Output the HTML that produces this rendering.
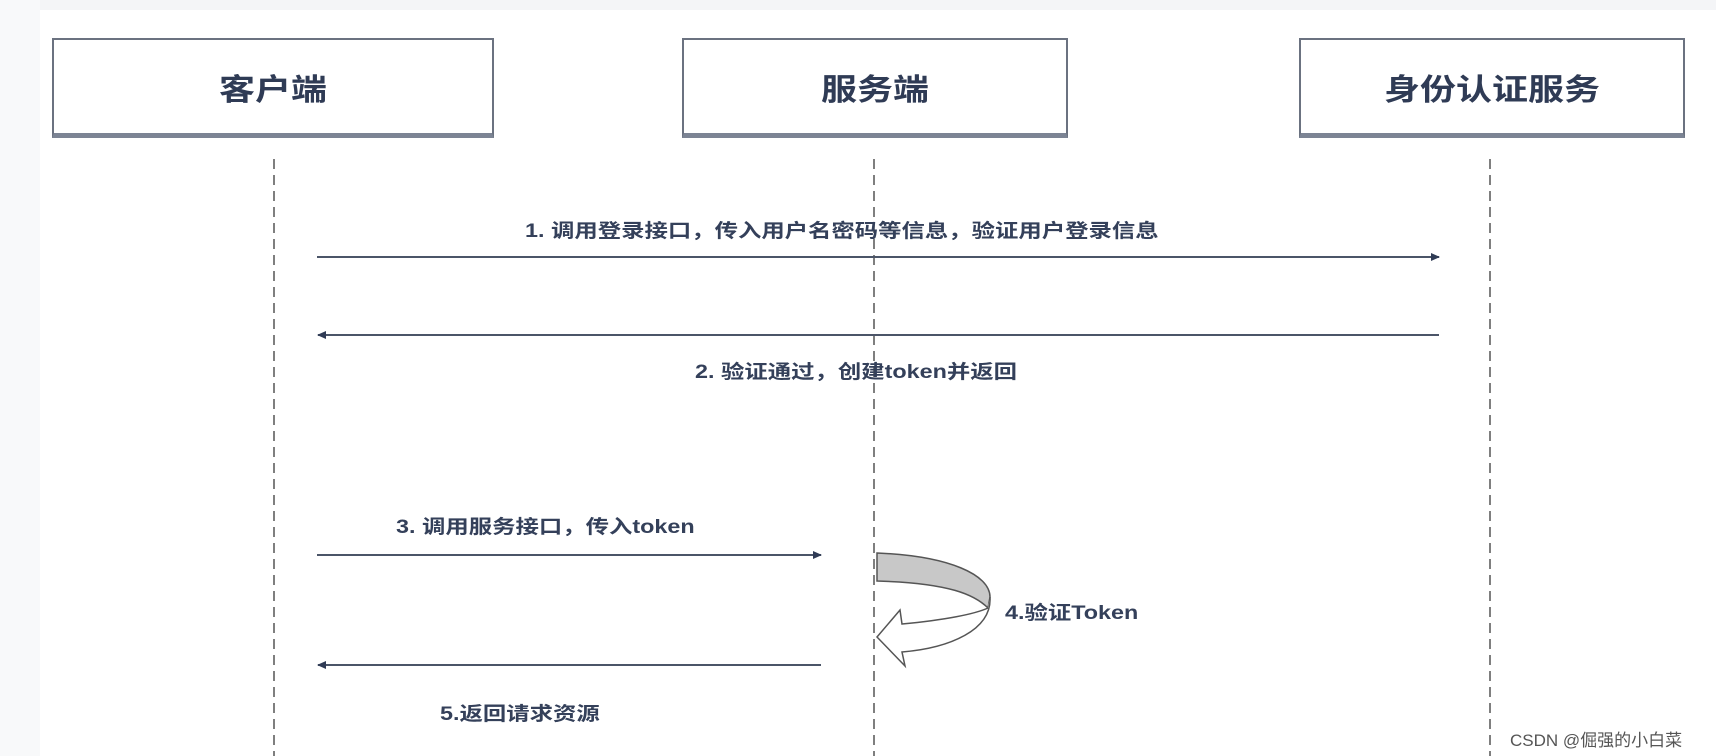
<!DOCTYPE html>
<html><head><meta charset="utf-8"><style>
body{margin:0;width:1716px;height:756px;background:#fff;overflow:hidden;position:relative;font-family:"Liberation Sans","Noto Sans CJK SC",sans-serif}
.box{position:absolute;top:38px;height:100px;border:2px solid #6b7280;border-bottom:5px solid #7c8494;background:#fff;box-sizing:border-box;display:flex;align-items:center;justify-content:center;font-size:30px;font-weight:bold;color:#2f3b55}
.box span{display:inline-block;transform:scaleX(1.2)}
.t{position:absolute;font-size:19px;font-weight:bold;color:#34405a;white-space:nowrap;transform:scaleX(1.23);transform-origin:0 50%}
</style></head><body>
<div style="position:absolute;left:0;top:0;width:1716px;height:10px;background:#f4f5f7"></div>
<div style="position:absolute;left:0;top:0;width:40px;height:756px;background:#f8f9fa"></div>
<div class="box" style="left:52px;width:442px"><span>客户端</span></div>
<div class="box" style="left:682px;width:386px"><span>服务端</span></div>
<div class="box" style="left:1299px;width:386px"><span>身份认证服务</span></div>
<svg width="1716" height="756" style="position:absolute;left:0;top:0">
<defs><marker id="a" markerWidth="10" markerHeight="10" refX="8" refY="5" orient="auto" markerUnits="userSpaceOnUse"><path d="M0,1 L9,5 L0,9z" fill="#2f3b55"/></marker></defs>
<g stroke="#555" stroke-width="1.5" stroke-dasharray="10,6">
<line x1="274" y1="159" x2="274" y2="756"/><line x1="874" y1="159" x2="874" y2="756"/><line x1="1490" y1="159" x2="1490" y2="756"/></g>
<g stroke="#4b5568" stroke-width="2" marker-end="url(#a)">
<line x1="317" y1="257" x2="1439" y2="257"/><line x1="1439" y1="335" x2="318" y2="335"/>
<line x1="317" y1="555" x2="821" y2="555"/><line x1="821" y1="665" x2="318" y2="665"/></g>
<path d="M877,553 C950,556 990,575 990,597 L988,608 C975,595 950,583 877,581 Z" fill="#c8c8c8" stroke="#555" stroke-width="1.5"/>
<path d="M990,597 C992,630 950,648 902,652 L905,666 L877,637 L900,610 L902,624 C945,620 975,614 988,608" fill="#fff" stroke="#555" stroke-width="1.5"/>
</svg>
<div class="t" style="left:525px;top:216px">1. 调用登录接口，传入用户名密码等信息，验证用户登录信息</div>
<div class="t" style="left:695px;top:357px">2. 验证通过，创建token并返回</div>
<div class="t" style="left:396px;top:512px">3. 调用服务接口，传入token</div>
<div class="t" style="left:1005px;top:598px">4.验证Token</div>
<div class="t" style="left:440px;top:699px">5.返回请求资源</div>
<div style="position:absolute;left:1510px;top:726px;font-size:17px;color:#555">CSDN @倔强的小白菜</div>
</body></html>
